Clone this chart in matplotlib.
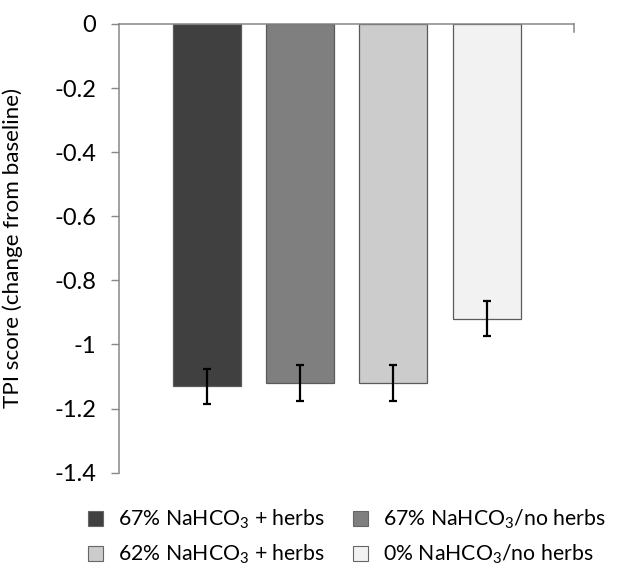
import matplotlib
matplotlib.use("Agg")
import matplotlib.pyplot as plt
from matplotlib.patches import Patch

plt.rcParams['font.family'] = ['Lato', 'DejaVu Sans']
plt.rcParams['mathtext.fontset'] = 'custom'
plt.rcParams['mathtext.rm'] = 'Lato'
plt.rcParams['mathtext.it'] = 'Lato'

labels = ["67% NaHCO$_3$ + herbs", "67% NaHCO$_3$/no herbs",
          "62% NaHCO$_3$ + herbs", "0% NaHCO$_3$/no herbs"]
values = [-1.13, -1.12, -1.12, -0.92]
errors = [0.055, 0.055, 0.055, 0.055]
colors = ["#404040", "#7f7f7f", "#cccccc", "#f2f2f2"]
yticks = [0, -0.2, -0.4, -0.6, -0.8, -1.0, -1.2, -1.4]
yticklabels = ["0", "-0.2", "-0.4", "-0.6", "-0.8", "-1", "-1.2", "-1.4"]

W, H = 621, 567
fig = plt.figure(figsize=(W/100, H/100), dpi=100)
ax = fig.add_axes([119.3/W, 1-472.7/H, (573.7-119.3)/W, (472.7-24)/H])

x = list(range(len(values)))
ax.bar(x, values, width=0.73, color=colors, edgecolor="#5a5a5a", linewidth=0.9,
       yerr=errors, error_kw=dict(ecolor="black", elinewidth=1.6, capsize=2.8, capthick=1.6))

ax.set_xlim(-0.937, 3.933)
ax.set_ylim(-1.4, 0)
ax.set_yticks(yticks)
ax.set_yticklabels(yticklabels, fontsize=17)
ax.set_xticks([])
ax.tick_params(axis='y', direction='out', length=5.5, width=1, color="#888888", pad=11)
ax.yaxis.set_ticks_position('left')
for s in ['right', 'bottom']:
    ax.spines[s].set_visible(False)
for s in ['left', 'top']:
    ax.spines[s].set_color("#888888")
    ax.spines[s].set_linewidth(1.1)
ax.plot([3.933, 3.933], [0, -0.025], color="#888888", lw=1.1, clip_on=False)

ax.set_ylabel("TPI score (change from baseline)", fontsize=16.2)
ax.yaxis.set_label_coords(-(119.3-23)/(573.7-119.3), 0.5)

handles = [Patch(facecolor=c, edgecolor="#666666", linewidth=0.8) for c in colors]
order = [0, 2, 1, 3]
fig.legend([handles[i] for i in order], [labels[i] for i in order],
           loc='upper left', bbox_to_anchor=(88/W, 1-508/H),
           ncol=2, frameon=False, fontsize=15.3, handlelength=0.7, handleheight=0.7,
           columnspacing=1.35, labelspacing=0.55, handletextpad=0.7, borderpad=0,
           borderaxespad=0)

fig.savefig("out.png", dpi=100)
